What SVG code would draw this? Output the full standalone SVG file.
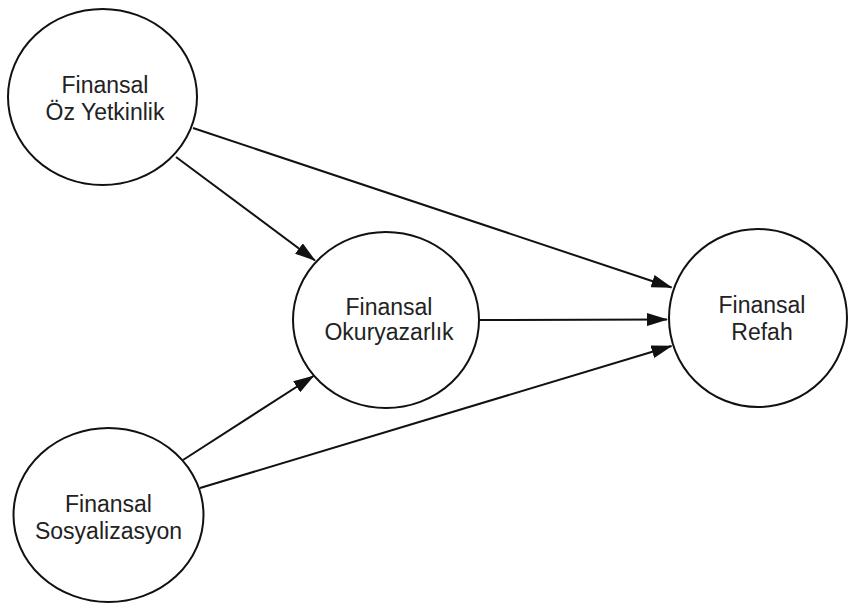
<svg xmlns="http://www.w3.org/2000/svg" width="848" height="608" viewBox="0 0 848 608">
  <defs>
    <marker id="arrow" viewBox="0 0 21 13" refX="20" refY="6.5" markerWidth="21" markerHeight="13" markerUnits="userSpaceOnUse" orient="auto">
      <path d="M0,0 L21,6.5 L0,13 z" fill="#111"/>
    </marker>
    <style>
      .node { fill: #ffffff; stroke: #111; stroke-width: 2; }
      .label { font-family: "Liberation Sans", Arial, sans-serif; font-size: 23px; fill: #222; text-anchor: middle; }
      .edge { stroke: #111; stroke-width: 2; fill: none; marker-end: url(#arrow); }
    </style>
  </defs>
  <rect width="848" height="608" fill="#ffffff"/>

  <g id="connectors">
    <line class="edge" x1="176" y1="157" x2="315" y2="260.5"/>
    <line class="edge" x1="193" y1="128" x2="671.5" y2="287.5"/>
    <line class="edge" x1="479" y1="320" x2="667" y2="319.5"/>
    <line class="edge" x1="183" y1="460" x2="313.5" y2="376"/>
    <line class="edge" x1="200" y1="488" x2="671.5" y2="346"/>
  </g>

  <g id="node-oz-yetkinlik">
    <ellipse class="node" cx="102.5" cy="97" rx="94.5" ry="88"/>
    <text class="label" x="105" y="92.5">Finansal</text>
    <text class="label" x="105" y="119.5">Öz Yetkinlik</text>
  </g>

  <g id="node-okuryazarlik">
    <ellipse class="node" cx="386" cy="320" rx="93" ry="88"/>
    <text class="label" x="389" y="314.5">Finansal</text>
    <text class="label" x="389" y="340">Okuryazarlık</text>
  </g>

  <g id="node-refah">
    <ellipse class="node" cx="758" cy="318" rx="89" ry="89"/>
    <text class="label" x="762" y="313">Finansal</text>
    <text class="label" x="762" y="340">Refah</text>
  </g>

  <g id="node-sosyalizasyon">
    <ellipse class="node" cx="108.5" cy="515" rx="95" ry="87"/>
    <text class="label" x="108.5" y="511.5">Finansal</text>
    <text class="label" x="108.5" y="538.5">Sosyalizasyon</text>
  </g>
</svg>
